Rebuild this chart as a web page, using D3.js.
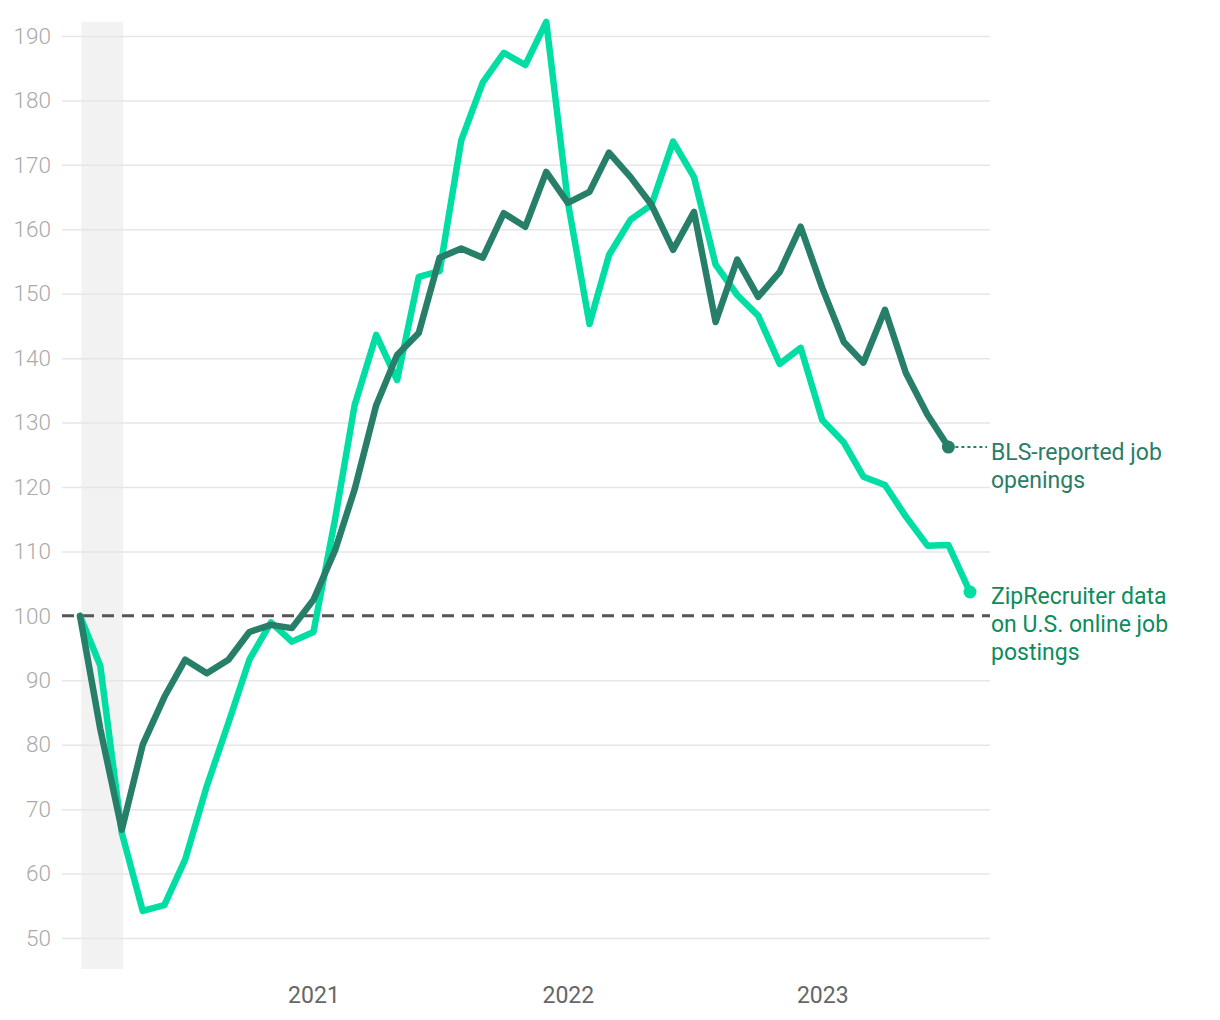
<!DOCTYPE html>
<html>
<head>
<meta charset="utf-8">
<script src="https://cdn.jsdelivr.net/npm/d3@7"></script>
<style>
  html, body { margin: 0; padding: 0; background: #fff; }
  svg { display: block; font-family: Roboto, "Noto Sans", sans-serif; }
</style>
</head>
<body>
<svg id="chart" width="1220" height="1020"></svg>
<script>
// ---- data ----
const startMonth = "2020-02";
const zipValues = [100, 92.3, 66.3, 54.2, 55.1, 62.2, 73.6, 83.4, 93.2, 99.0, 96.0, 97.5,
  115.0, 132.7, 143.6, 136.6, 152.6, 153.5, 173.8, 182.8, 187.4, 185.5, 192.2,
  164.2, 145.3, 156.0, 161.5, 163.8, 173.6, 168.1, 154.5, 149.8, 146.6, 139.1, 141.6,
  130.4, 126.9, 121.6, 120.3, 115.4, 110.9, 111.0, 103.7];
const blsValues = [100, 82.5, 66.8, 80.0, 87.4, 93.2, 91.1, 93.2, 97.5, 98.6, 98.1,
  102.5, 110.2, 119.6, 132.7, 140.5, 143.9, 155.6, 157.0, 155.6, 162.5, 160.4, 168.9,
  164.1, 165.8, 171.9, 168.1, 163.8, 156.8, 162.7, 145.6, 155.3, 149.5, 153.4, 160.4,
  150.9, 142.5, 139.3, 147.5, 137.7, 131.2, 126.2];
const yTicks = [50, 60, 70, 80, 90, 100, 110, 120, 130, 140, 150, 160, 170, 180, 190];
const xTickYears = ["2021", "2022", "2023"];
const recession = ["2020-02-03", "2020-04-03"];
const baseline = 100;
const blsLabel = ["BLS-reported job", "openings"];
const zipLabel = ["ZipRecruiter data", "on U.S. online job", "postings"];

// ---- setup ----
const parseMonth = d3.timeParse("%Y-%m");
const parseDay = d3.timeParse("%Y-%m-%d");
const start = parseMonth(startMonth);
const monthOf = i => d3.timeMonth.offset(start, i);
const zip = zipValues.map((v, i) => ({ date: monthOf(i), value: v }));
const bls = blsValues.map((v, i) => ({ date: monthOf(i), value: v }));

const svg = d3.select("#chart");
const x = d3.scaleTime()
  .domain([start, monthOf(zipValues.length - 1)])
  .range([80, 970]);
const y = d3.scaleLinear().domain([50, 190]).range([938, 36]);

const gridX0 = 62, gridX1 = 990;

// recession band
svg.append("rect")
  .attr("x", x(parseDay(recession[0])))
  .attr("width", x(parseDay(recession[1])) - x(parseDay(recession[0])))
  .attr("y", y(192.2))
  .attr("height", y(45.2) - y(192.2))
  .attr("fill", "#f2f2f2");

// y grid + labels
const yAxis = d3.axisLeft(y).tickValues(yTicks).tickSize(-(gridX1 - gridX0)).tickPadding(11);
const gy = svg.append("g").attr("transform", `translate(${gridX0},0)`).call(yAxis);
gy.select(".domain").remove();
gy.selectAll(".tick line").attr("stroke", "#e6e6e6").attr("stroke-width", 1.5)
  .filter(d => d === baseline).remove();
gy.selectAll(".tick text")
  .attr("fill", "#aaaaaa")
  .attr("font-size", 22.5)
  .attr("font-family", "Roboto, sans-serif")
  .attr("font-weight", 300);

// x axis labels
const xAxis = d3.axisBottom(x)
  .tickValues(xTickYears.map(s => d3.timeParse("%Y")(s)))
  .tickFormat(d3.timeFormat("%Y"))
  .tickSize(0).tickPadding(0);
const gx = svg.append("g").attr("transform", "translate(0,987)").call(xAxis);
gx.select(".domain").remove();
gx.selectAll(".tick text")
  .attr("fill", "#666666")
  .attr("font-size", 23)
  .attr("font-family", "Roboto, sans-serif")
  .attr("dy", "0.71em");

// baseline dashed
svg.append("line")
  .attr("x1", gridX0).attr("x2", gridX1)
  .attr("y1", y(baseline)).attr("y2", y(baseline))
  .attr("stroke", "#555555").attr("stroke-width", 3)
  .attr("stroke-dasharray", "12,8");

const line = d3.line().x(d => x(d.date)).y(d => y(d.value)).curve(d3.curveLinear);

const zipColor = "#00dea3", blsColor = "#277e69";

svg.append("path").datum(zip)
  .attr("d", line).attr("fill", "none")
  .attr("stroke", zipColor).attr("stroke-width", 6.5)
  .attr("stroke-linejoin", "round").attr("stroke-linecap", "round");

svg.append("path").datum(bls)
  .attr("d", line).attr("fill", "none")
  .attr("stroke", blsColor).attr("stroke-width", 6.5)
  .attr("stroke-linejoin", "round").attr("stroke-linecap", "round");

const zLast = zip[zip.length - 1], bLast = bls[bls.length - 1];

svg.append("circle").attr("cx", x(zLast.date)).attr("cy", y(zLast.value)).attr("r", 6.5).attr("fill", zipColor);
svg.append("circle").attr("cx", x(bLast.date)).attr("cy", y(bLast.value)).attr("r", 6.5).attr("fill", blsColor);

// connector
svg.append("line")
  .attr("x1", x(bLast.date) + 7).attr("x2", 987)
  .attr("y1", y(bLast.value)).attr("y2", y(bLast.value))
  .attr("stroke", blsColor).attr("stroke-width", 2)
  .attr("stroke-dasharray", "3,3");

// labels
const labelX = 991;
const bt = svg.append("text").attr("x", labelX).attr("y", y(bLast.value) + 13)
  .attr("fill", "#2a7d68").attr("font-size", 23);
blsLabel.forEach((s, i) => bt.append("tspan").attr("x", labelX).attr("dy", i ? 28 : 0).text(s));

const zt = svg.append("text").attr("x", labelX).attr("y", y(zLast.value) + 12)
  .attr("fill", "#0c8c5d").attr("font-size", 23);
zipLabel.forEach((s, i) => zt.append("tspan").attr("x", labelX).attr("dy", i ? 28 : 0).text(s));
</script>
</body>
</html>
